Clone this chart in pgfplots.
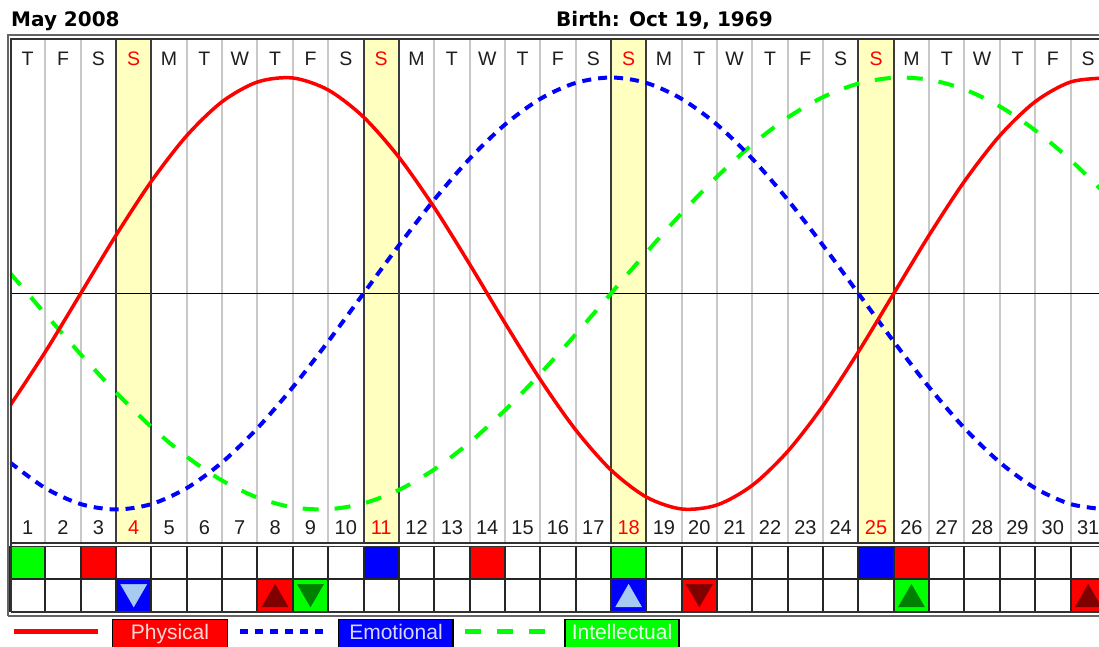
\documentclass[border=0pt]{standalone}
\usepackage{pgfplots}
\pgfplotsset{compat=1.18}
\usepackage{pgfplotstable}
\usepackage{fontspec}
\setmainfont{Liberation Sans}
\newfontfamily\titlefont{DejaVu Sans}
\definecolor{sunyel}{RGB}{255,255,192}
\definecolor{gridgray}{RGB}{200,200,200}
\definecolor{sunline}{RGB}{60,60,60}
\definecolor{pred}{RGB}{255,0,0}
\definecolor{eblue}{RGB}{0,0,255}
\definecolor{igreen}{RGB}{0,255,0}
\definecolor{dred}{RGB}{128,0,0}
\definecolor{dgreen}{RGB}{0,128,0}
\definecolor{lblue}{RGB}{166,202,240}
\definecolor{txt}{RGB}{30,30,30}
\definecolor{outerb}{RGB}{100,100,100}
\definecolor{innerb}{RGB}{50,50,50}
\definecolor{ptext}{RGB}{255,215,215}
\definecolor{etext}{RGB}{215,215,255}
\definecolor{itext}{RGB}{235,255,235}

% d = days after 1 May 2008 (left edge of day-1 column); p, e, i = physical, emotional, intellectual
\pgfplotstableread{
d p e i
0 -0.5196 -0.7818 0.0951
1 -0.2698 -0.9010 -0.0951
2 0 -0.9749 -0.2817
3 0.2698 -1 -0.4582
4 0.5196 -0.9749 -0.6182
5 0.7308 -0.9010 -0.7557
6 0.8879 -0.7818 -0.8660
7 0.9791 -0.6235 -0.9450
8 0.9977 -0.4339 -0.9898
9 0.9423 -0.2225 -0.9989
10 0.8170 0 -0.9718
11 0.6311 0.2225 -0.9096
12 0.3984 0.4339 -0.8146
13 0.1362 0.6235 -0.6901
14 -0.1362 0.7818 -0.5406
15 -0.3984 0.9010 -0.3717
16 -0.6311 0.9749 -0.1893
17 -0.8170 1 0
18 -0.9423 0.9749 0.1893
19 -0.9977 0.9010 0.3717
20 -0.9791 0.7818 0.5406
21 -0.8879 0.6235 0.6901
22 -0.7308 0.4339 0.8146
23 -0.5196 0.2225 0.9096
24 -0.2698 0 0.9718
25 0 -0.2225 0.9989
26 0.2698 -0.4339 0.9898
27 0.5196 -0.6235 0.9450
28 0.7308 -0.7818 0.8660
29 0.8879 -0.9010 0.7557
30 0.9791 -0.9749 0.6182
31 0.9977 -1 0.4582
}\bio

\begin{document}
\begin{tikzpicture}
\fill[white] (0,0) rectangle (1099pt,647pt);

% Sunday bands
\begin{axis}[at={(10pt,104pt)}, anchor=south west, width=1089pt, height=503pt,
  scale only axis, xmin=0, xmax=30.806, ymin=-1.1551, ymax=1.1736, hide axis]
\addplot[draw=none, fill=sunyel] coordinates {(3,-2) (4,-2) (4,2) (3,2)};
\addplot[draw=none, fill=sunyel] coordinates {(10,-2) (11,-2) (11,2) (10,2)};
\addplot[draw=none, fill=sunyel] coordinates {(17,-2) (18,-2) (18,2) (17,2)};
\addplot[draw=none, fill=sunyel] coordinates {(24,-2) (25,-2) (25,2) (24,2)};
\end{axis}

% main chart
\begin{axis}[at={(10pt,104pt)}, anchor=south west, width=1089pt, height=503pt,
  scale only axis, xmin=0, xmax=30.806, ymin=-1.1551, ymax=1.1736,
  axis line style={draw=none}, tick style={draw=none},
  xtick={0.5,1.5,...,30.5},
  xticklabels={1,2,3,\textcolor{pred}{4},5,6,7,8,9,10,\textcolor{pred}{11},12,13,14,15,16,17,\textcolor{pred}{18},19,20,21,22,23,24,\textcolor{pred}{25},26,27,28,29,30,31},
  xticklabel style={anchor=base, yshift=8pt, font=\fontsize{20}{24}\selectfont, text=txt},
  minor xtick={1,2,...,30},
  xminorgrids=true,
  minor grid style={gridgray, line width=2pt},
  extra x ticks={3,4,10,11,17,18,24,25},
  extra x tick labels={},
  extra x tick style={xmajorgrids=true, xminorgrids=false, major grid style={sunline, line width=2pt}},
  ytick={0}, yticklabels={},
  ymajorgrids=true,
  major grid style={black, line width=1pt},
]
\addplot[igreen, line width=4pt, smooth, dash pattern=on 16pt off 16pt] table[x=d, y=i] {\bio};
\addplot[eblue, line width=4pt, smooth, dash pattern=on 9pt off 7pt] table[x=d, y=e] {\bio};
\addplot[pred, line width=3.5pt, smooth] table[x=d, y=p] {\bio};
\end{axis}

% weekday letters
\begin{axis}[at={(10pt,104pt)}, anchor=south west, width=1089pt, height=503pt,
  scale only axis, xmin=0, xmax=30.806, ymin=0, ymax=1,
  axis line style={draw=none}, tick style={draw=none}, ytick=\empty,
  xtick={0.5,1.5,...,30.5},
  xticklabels={T,F,S,\textcolor{pred}{S},M,T,W,T,F,S,\textcolor{pred}{S},M,T,W,T,F,S,\textcolor{pred}{S},M,T,W,T,F,S,\textcolor{pred}{S},M,T,W,T,F,S},
  xticklabel pos=upper,
  xticklabel style={anchor=base, yshift=-26pt, font=\fontsize{19.5}{24}\selectfont, text=txt},
]
\end{axis}

% critical-day cells
\begin{axis}[at={(10pt,35pt)}, anchor=south west, width=1089pt, height=65.5pt,
  scale only axis, xmin=0, xmax=30.806, ymin=0, ymax=2,
  axis line style={draw=none}, tick style={draw=none},
  xtick={0,1,...,30}, ytick={1}, xticklabels={}, yticklabels={},
  grid=major, major grid style={black!85, line width=2pt},
  axis on top, clip marker paths=true]
\addplot[only marks, mark=square*, color=igreen, mark size=16.4pt, mark options={xscale=1.08, draw=none}]
  coordinates {(0.5,1.5) (17.5,1.5) (8.5,0.5) (25.5,0.5)};
\addplot[only marks, mark=square*, color=pred, mark size=16.4pt, mark options={xscale=1.08, draw=none}]
  coordinates {(2.5,1.5) (13.5,1.5) (25.5,1.5) (7.5,0.5) (19.5,0.5) (30.5,0.5)};
\addplot[only marks, mark=square*, color=eblue, mark size=16.4pt, mark options={xscale=1.08, draw=none}]
  coordinates {(10.5,1.5) (24.5,1.5) (3.5,0.5) (17.5,0.5)};
\addplot[only marks, mark=triangle*, color=dred, mark size=15pt, mark options={yshift=-3.75pt, draw=none}]
  coordinates {(7.5,0.5) (30.5,0.5)};
\addplot[only marks, mark=triangle*, color=dred, mark size=15pt, mark options={yshift=3.75pt, rotate=180, draw=none}]
  coordinates {(19.5,0.5)};
\addplot[only marks, mark=triangle*, color=dgreen, mark size=15pt, mark options={yshift=-3.75pt, draw=none}]
  coordinates {(25.5,0.5)};
\addplot[only marks, mark=triangle*, color=dgreen, mark size=15pt, mark options={yshift=3.75pt, rotate=180, draw=none}]
  coordinates {(8.5,0.5)};
\addplot[only marks, mark=triangle*, color=lblue, mark size=15pt, mark options={yshift=-3.75pt, draw=none}]
  coordinates {(17.5,0.5)};
\addplot[only marks, mark=triangle*, color=lblue, mark size=15pt, mark options={yshift=3.75pt, rotate=180, draw=none}]
  coordinates {(3.5,0.5)};
\end{axis}

% frame, titles, legend (pixel coordinates)
\begin{axis}[at={(0pt,0pt)}, anchor=south west, width=1099pt, height=647pt,
  scale only axis, xmin=0, xmax=1099, ymin=0, ymax=647, y dir=reverse, hide axis]
\draw[outerb, line width=2pt] (axis cs:7.5,615.5) -- (axis cs:7.5,35.5) -- (axis cs:1100,35.5);
\draw[outerb, line width=2pt] (axis cs:7.5,615.5) -- (axis cs:1100,615.5);
\draw[innerb, line width=2pt] (axis cs:10.5,612) -- (axis cs:10.5,39.5) -- (axis cs:1100,39.5);
\draw[innerb, line width=2pt] (axis cs:10.5,611.5) -- (axis cs:1100,611.5);
\draw[innerb, line width=1.8pt] (axis cs:10.5,543) -- (axis cs:1100,543);
\draw[innerb, line width=1.8pt] (axis cs:10.5,546.5) -- (axis cs:1100,546.5);
\node[anchor=base west, inner sep=0pt, font={\titlefont\bfseries\fontsize{20}{24}\selectfont}] at (axis cs:11,27) {May 2008};
\node[anchor=base west, inner sep=0pt, font={\titlefont\bfseries\fontsize{20}{24}\selectfont}] at (axis cs:556,27) {Birth: Oct 19, 1969};
\addplot[pred, line width=5pt] coordinates {(14,631) (98,631)};
\addplot[eblue, line width=5pt, dash pattern=on 8pt off 7pt] coordinates {(240,631) (323,631)};
\addplot[igreen, line width=5pt, dash pattern=on 16pt off 16pt] coordinates {(465,631) (547,631)};
\draw[fill=pred, draw=black, line width=1.2pt] (axis cs:112.5,619.5) rectangle (axis cs:227.5,648);
\draw[fill=eblue, draw=black, line width=1.2pt] (axis cs:338.5,619.5) rectangle (axis cs:453,648);
\draw[fill=igreen, draw=black, line width=1.2pt] (axis cs:565,619.5) rectangle (axis cs:679,648);
\node[anchor=base, inner sep=0pt, text=ptext, font=\fontsize{21}{24}\selectfont] at (axis cs:170,639) {Physical};
\node[anchor=base, inner sep=0pt, text=etext, font=\fontsize{21}{24}\selectfont] at (axis cs:396,639) {Emotional};
\node[anchor=base, inner sep=0pt, text=itext, font=\fontsize{21}{24}\selectfont] at (axis cs:622,639) {Intellectual};
\end{axis}
\pgfresetboundingbox
\useasboundingbox (0,0) rectangle (1099pt,647pt);
\end{tikzpicture}
\end{document}
